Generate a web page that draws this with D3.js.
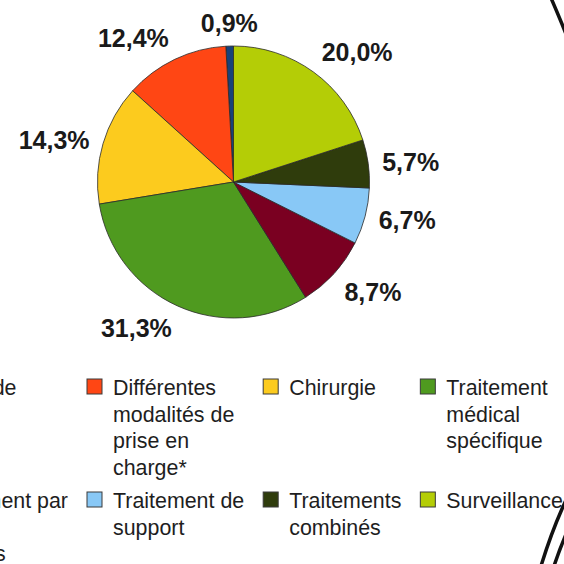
<!DOCTYPE html>
<meta charset="utf-8">
<style>
  body { margin: 0; background: #fff; }
  svg { display: block; }
  .pct { font: bold 25px "Liberation Sans", Arial, sans-serif; fill: #1a1a1a; }
  .leg { font: 21.4px "Liberation Sans", Arial, sans-serif; fill: #1e1e1e; }
</style>
<svg width="564" height="564"></svg>
<script src="https://d3js.org/d3.v7.min.js"></script>
<script>

// data, in legend order (the pie runs counter-clockwise from 12 o'clock)
var categories = [
  ["Perdu de", "vue"],
  ["Différentes", "modalités de", "prise en", "charge*"],
  ["Chirurgie"],
  ["Traitement", "médical", "spécifique"],
  ["Traitement par", "autres", "produits"],
  ["Traitement de", "support"],
  ["Traitements", "combinés"],
  ["Surveillance"]
];
var values = [0.9, 12.4, 14.3, 31.3, 8.7, 6.7, 5.7, 20.0];
var labels = ["0,9%", "12,4%", "14,3%", "31,3%", "8,7%", "6,7%", "5,7%", "20,0%"];
var colors = ["#17427a", "#ff4614", "#fccb1e", "#4f9a1f", "#7a0021", "#88c8f6", "#2f3c0c", "#b4cd06"];

var svg = d3.select("svg");

var cx = 233.5, cy = 182, r = 136;

var pie = d3.pie()
    .sort(null)
    .startAngle(0)
    .endAngle(-2 * Math.PI);

var arc = d3.arc().innerRadius(0).outerRadius(r);

var arcs = pie(values);

var g = svg.append("g").attr("transform", "translate(" + cx + "," + cy + ")");

g.selectAll("path")
  .data(arcs)
  .enter().append("path")
    .attr("d", arc)
    .attr("fill", function(d, i) { return colors[i]; })
    .attr("stroke", "#2a2a2a")
    .attr("stroke-width", 0.8)
    .attr("stroke-linejoin", "round");

// percentage labels: anchor point just outside the rim, the text box hangs
// off it by a side or a corner depending on which 45deg sector it is in
var capH = 18;
g.selectAll("text.pct")
  .data(arcs)
  .enter().append("text")
    .attr("class", "pct")
    .text(function(d, i) { return labels[i]; })
    .each(function(d) {
      var a = (d.startAngle + d.endAngle) / 2;
      var s = Math.sin(a), c = Math.cos(a);
      var lr = r + 14;
      var x = lr * s, y = -lr * c;
      var lim = Math.sin(Math.PI / 8);
      var anchor = Math.abs(s) < lim ? "middle" : (s > 0 ? "start" : "end");
      var base;
      if (Math.abs(c) < lim) base = y + capH / 2;
      else if (c > 0) base = y;
      else base = y + capH;
      d3.select(this)
        .attr("text-anchor", anchor)
        .attr("x", x)
        .attr("y", base);
    });

// legend: 4 columns x 2 rows, columns as wide as their longest line
var nCols = 4, lineH = 26.5, rowGap = 7, sw = 15;
var measure = svg.append("text").attr("class", "leg");
function textW(s) { measure.text(s); return measure.node().getComputedTextLength(); }

var colW = d3.range(nCols).map(function(c) {
  var m = 0;
  categories.forEach(function(lines, i) {
    if (i % nCols == c) lines.forEach(function(l) { m = Math.max(m, textW(l)); });
  });
  return m + 45;
});
measure.remove();

var col2x = 87;
var colX = [col2x - colW[0]];
for (var c = 1; c < nCols; c++) colX.push(colX[c - 1] + colW[c - 1]);

var rowLines = [0, 1].map(function(rw) {
  return d3.max(categories.filter(function(d, i) { return Math.floor(i / nCols) == rw; }),
    function(d) { return d.length; });
});
var rowY = [395, 395 + rowLines[0] * lineH + rowGap];

var leg = svg.append("g");
var items = leg.selectAll("g")
  .data(categories)
  .enter().append("g")
    .attr("transform", function(d, i) {
      return "translate(" + colX[i % nCols] + "," + rowY[Math.floor(i / nCols)] + ")";
    });

items.append("rect")
    .attr("x", 0)
    .attr("y", -16)
    .attr("width", sw)
    .attr("height", sw)
    .attr("fill", function(d, i) { return colors[i]; })
    .attr("stroke", "#3a3a3a")
    .attr("stroke-width", 1);

items.append("text")
    .attr("class", "leg")
    .selectAll("tspan")
    .data(function(d) { return d; })
    .enter().append("tspan")
      .attr("x", 26)
      .attr("y", function(d, j) { return j * lineH; })
      .text(function(d) { return d; });

// page frame strokes at the right edge of the scanned page
var frame = svg.append("g")
    .attr("fill", "none")
    .attr("stroke", "#111")
    .attr("stroke-width", 3.5)
    .attr("stroke-linecap", "round");
frame.append("path").attr("d", "M551,-2 Q558,14 566,34");
frame.append("path").attr("d", "M566,500 Q552,530 541,566");
frame.append("path").attr("d", "M567,532 Q560,548 554,566");

</script>
